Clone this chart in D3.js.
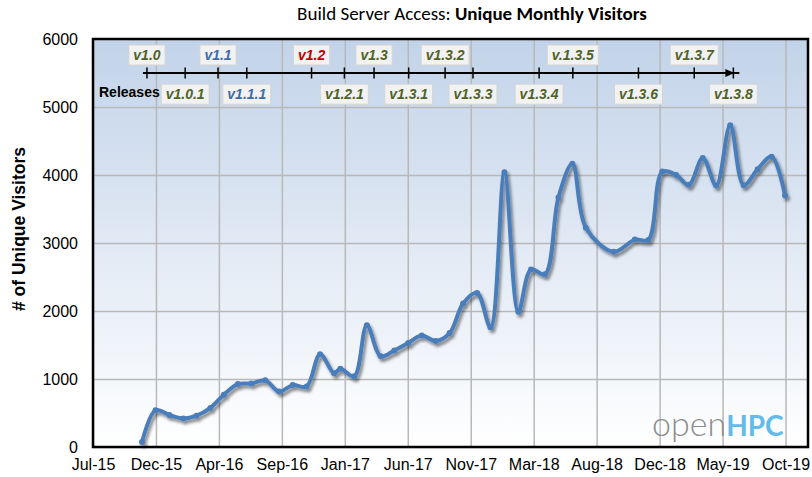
<!DOCTYPE html>
<html><head><meta charset="utf-8">
<script src="https://cdn.jsdelivr.net/npm/d3@7"></script>
<style>body{margin:0;background:#fff}svg{display:block}</style>
</head><body><svg id="c" width="812" height="477"></svg>
<script>
// ---------- data ----------
const visitDates = [
  "2015-11-01","2015-12-01","2016-01-01","2016-02-01","2016-03-01","2016-04-01",
  "2016-05-01","2016-06-01","2016-07-01","2016-08-01","2016-09-01","2016-10-01",
  "2016-11-01","2016-12-01","2017-01-01","2017-01-15","2017-02-15","2017-03-15",
  "2017-04-15","2017-05-15","2017-06-15","2017-07-15","2017-08-15","2017-09-15",
  "2017-10-15","2017-11-15","2017-12-15","2018-01-15","2018-02-15","2018-03-15",
  "2018-04-15","2018-05-15","2018-06-15","2018-07-15","2018-09-15","2018-11-01",
  "2018-12-01","2019-01-01","2019-02-01","2019-03-01","2019-04-01","2019-05-01",
  "2019-06-01","2019-07-01","2019-08-01","2019-09-01","2019-10-01"];
const visitors = [
  75, 540, 470, 420, 460, 575,
  770, 925, 935, 980, 815, 910,
  890, 1365, 1085, 1150, 1040, 1790,
  1335, 1420, 1530, 1640, 1560, 1675,
  2110, 2265, 1760, 4040, 1990, 2610,
  2540, 3670, 4165, 3225, 2870, 3050,
  3045, 4050, 4000, 3855, 4250, 3845,
  4730, 3850, 4085, 4270, 3700];
const tickDates = ["2015-07-15","2015-12-02","2016-04-20","2016-09-07","2017-01-25","2017-06-14",
  "2017-11-01","2018-03-21","2018-08-08","2018-12-26","2019-05-15","2019-10-02"];
const tickLabels = ["Jul-15","Dec-15","Apr-16","Sep-16","Jan-17","Jun-17",
  "Nov-17","Mar-18","Aug-18","Dec-18","May-19","Oct-19"];
const yTicks = [0,1000,2000,3000,4000,5000,6000];
const releaseNames = ["v1.0","v1.0.1","v1.1","v1.1.1","v1.2","v1.2.1","v1.3","v1.3.1",
  "v1.3.2","v1.3.3","v1.3.4","v.1.3.5","v1.3.6","v1.3.7","v1.3.8"];
const releaseDates = ["2015-11-12","2016-02-05","2016-04-18","2016-06-21","2016-11-12","2017-01-24",
  "2017-03-31","2017-06-16","2017-09-05","2017-11-06","2018-04-02","2018-06-16",
  "2018-11-09","2019-03-13","2019-06-08"];
const releaseRow = ["top","bottom","top","bottom","top","bottom","top","bottom",
  "top","bottom","bottom","top","bottom","top","bottom"];
const releaseKind = ["green","green","blue","blue","red","green","green","green",
  "green","green","green","green","green","green","green"];

// ---------- layout ----------
const svg = d3.select("#c");
const L = 93, R = 808, T = 39, B = 447;
const parse = d3.utcParse("%Y-%m-%d");
const x = d3.scaleUtc().domain([parse("2015-07-15"), parse("2019-11-21")]).range([L, R]);
const y = d3.scaleLinear().domain([0, 6000]).range([B, T]);
const kindColor = {green:"#4f6228", blue:"#3d6bab", red:"#c00000"};
const lineColor = "#4a7ebb";

const defs = svg.append("defs");
const grad = defs.append("linearGradient").attr("id","bg").attr("x1",0).attr("y1",0).attr("x2",0).attr("y2",1);
grad.append("stop").attr("offset","0%").attr("stop-color","#c2d3e9");
grad.append("stop").attr("offset","100%").attr("stop-color","#ffffff");
const f = defs.append("filter").attr("id","sh").attr("x","-5%").attr("y","-10%").attr("width","110%").attr("height","130%");
f.append("feDropShadow").attr("dx",2).attr("dy",3).attr("stdDeviation",1.6)
  .attr("flood-color","#000").attr("flood-opacity",0.45);

// title (fit to the reference width)
const title = svg.append("text").attr("x", 472).attr("y", 20).attr("text-anchor","middle")
  .style("font-family","Carlito, Lato, 'Open Sans', sans-serif").style("font-size","14px").attr("fill","#000");
title.append("tspan").text("Build Server Access: ");
title.append("tspan").style("font-weight","bold").text("Unique Monthly Visitors");
const tw = title.node().getComputedTextLength();
title.style("font-size", (14 * 350 / tw).toFixed(2) + "px");

// plot background
svg.append("rect").attr("x",L).attr("y",T).attr("width",R-L).attr("height",B-T).attr("fill","url(#bg)");

// gridlines
const tickD = tickDates.map(parse);
svg.append("g").attr("transform",`translate(0,${B})`)
  .call(d3.axisBottom(x).tickValues(tickD).tickSize(-(B-T)).tickFormat(""))
  .call(g => g.select(".domain").remove())
  .call(g => g.selectAll("line").attr("stroke","#b8b8b8").attr("stroke-width",1.5));
svg.append("g").attr("transform",`translate(${L},0)`)
  .call(d3.axisLeft(y).tickValues(yTicks).tickSize(-(R-L)).tickFormat(""))
  .call(g => g.select(".domain").remove())
  .call(g => g.selectAll("line").attr("stroke","#b8b8b8").attr("stroke-width",1.5));

// release timeline
const rel = releaseNames.map((n,i) => ({name:n, date:parse(releaseDates[i]), row:releaseRow[i], kind:releaseKind[i]}));
const tlY = 73;
const x0 = x(rel[0].date), x1 = x(rel[rel.length-1].date);
svg.append("line").attr("x1",x0-4).attr("x2",x1+6).attr("y1",tlY).attr("y2",tlY)
  .attr("stroke","#000").attr("stroke-width",2);
svg.append("path").attr("d",`M${x1+1},${tlY} L${x1-8},${tlY-4} L${x1-8},${tlY+4} Z`).attr("fill","#000");
svg.selectAll(".rt").data(rel).join("line").attr("class","rt")
  .attr("x1",d=>x(d.date)).attr("x2",d=>x(d.date)).attr("y1",tlY-5.5).attr("y2",tlY+5.5)
  .attr("stroke","#000").attr("stroke-width",1.5);

svg.append("text").attr("x",99).attr("y",97).text("Releases")
  .style("font-family","'Liberation Sans', Arial, sans-serif").style("font-weight","bold").style("font-size","14px");

const lg = svg.selectAll(".rl").data(rel).join("g").attr("class","rl")
  .attr("transform", d => `translate(${x(d.date)},${d.row==="top"?55:94.2})`);
const lt = lg.append("text").attr("text-anchor","middle").attr("dy","0.36em")
  .style("font-family","'Liberation Sans', Arial, sans-serif").style("font-weight","bold")
  .style("font-style","italic").style("font-size","14px")
  .attr("fill", d => kindColor[d.kind]).text(d => d.name);
lt.each(function(){
  const w = this.getComputedTextLength() + 9;
  d3.select(this.parentNode).insert("rect","text").attr("x",-w/2).attr("y",-10).attr("width",w).attr("height",20)
    .attr("fill","#f2f2f2").attr("stroke","#d4d4d4").attr("stroke-width",1);
});

// logo
const logo = svg.append("text").attr("x",652).attr("y",436)
  .style("font-family","Lato, 'Open Sans', sans-serif");
logo.append("tspan").attr("fill","#8c8c8c").style("font-weight","300").style("font-size","34px").text("open");
logo.append("tspan").attr("fill","#62bbe8").style("font-weight","bold").style("font-size","28px").text("HPC");

// data line
const pts = visitDates.map((d,i) => ({date:parse(d), v:visitors[i]}));
const line = d3.line().x(d=>x(d.date)).y(d=>y(d.v)).curve(d3.curveCatmullRom.alpha(0.5));
const lineG = svg.append("g").attr("filter","url(#sh)");
lineG.append("path").datum(pts).attr("d",line).attr("fill","none")
  .attr("stroke",lineColor).attr("stroke-width",4).attr("stroke-linejoin","round").attr("stroke-linecap","round");
lineG.selectAll("circle").data(pts).join("circle").attr("cx",d=>x(d.date)).attr("cy",d=>y(d.v)).attr("r",3)
  .attr("fill",lineColor);

// border
svg.append("rect").attr("x",L).attr("y",T).attr("width",R-L).attr("height",B-T)
  .attr("fill","none").attr("stroke","#000").attr("stroke-width",2.5);

// axes labels
const axFont = "'Liberation Sans', Arial, sans-serif";
svg.append("g").attr("transform",`translate(0,${B})`)
  .call(d3.axisBottom(x).tickValues(tickD).tickSize(0).tickPadding(12).tickFormat((d,i)=>tickLabels[i]))
  .call(g => g.select(".domain").remove())
  .call(g => g.selectAll("text").style("font-family",axFont).style("font-size","16px").attr("fill","#000"));
svg.append("g").attr("transform",`translate(${L},0)`)
  .call(d3.axisLeft(y).tickValues(yTicks).tickSize(0).tickPadding(15).tickFormat(d3.format("d")))
  .call(g => g.select(".domain").remove())
  .call(g => g.selectAll("text").style("font-family",axFont).style("font-size","16px").attr("fill","#000"));

svg.append("text").attr("transform","translate(25,229) rotate(-90)").attr("text-anchor","middle")
  .style("font-family",axFont).style("font-weight","bold").style("font-size","17.5px").text("# of Unique Visitors");
</script></body></html>
